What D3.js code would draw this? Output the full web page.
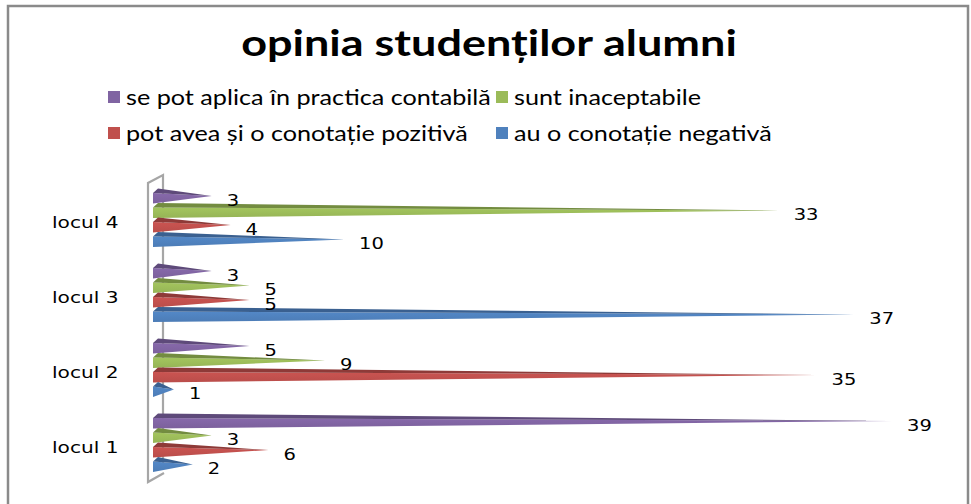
<!DOCTYPE html>
<html>
<head>
<meta charset="utf-8">
<script src="https://cdn.jsdelivr.net/npm/d3@7"></script>
<style>
  html, body { margin: 0; padding: 0; background: #fff; }
  svg { display: block; }
</style>
</head>
<body>
<div id="chart"></div>
<script>
// Categories, listed from bottom to top as on the axis
const categories = ["locul 1", "locul 2", "locul 3", "locul 4"];

// Series, in legend order
const seriesNames = [
  "se pot aplica în practica contabilă",
  "sunt inaceptabile",
  "pot avea și o conotație pozitivă",
  "au o conotație negativă"
];
const seriesColors = ["#8064A2", "#9BBB59", "#C0504D", "#4F81BD"];
const seriesDark   = ["#5E4A7A", "#738C40", "#8E3A38", "#3A6090"];

// Values per category (locul 1 .. locul 4)
const valuesAplica      = [39, 5, 3, 3];
const valuesInaceptabil = [3, 9, 5, 33];
const valuesPozitiva    = [6, 35, 5, 4];
const valuesNegativa    = [2, 1, 37, 10];
const seriesValues = [valuesAplica, valuesInaceptabil, valuesPozitiva, valuesNegativa];

const title = "opinia studenților alumni";

const W = 971, H = 504;
const svg = d3.select("#chart").append("svg").attr("width", W).attr("height", H);

// text drawn with a horizontal stretch (wide face)
function wideText(sel, x, y, sx) {
  return sel.append("text")
    .attr("transform", `translate(${x},${y}) scale(${sx},1)`);
}

// chart frame
svg.append("rect")
  .attr("x", 8).attr("y", 6).attr("width", 960).attr("height", 520)
  .attr("fill", "#fff").attr("stroke", "#8a8a8a").attr("stroke-width", 2.5);

// title
wideText(svg, 489, 56, 1.25)
  .attr("text-anchor", "middle")
  .attr("font-family", "Lato, 'Open Sans', sans-serif")
  .attr("font-weight", "bold")
  .attr("font-size", 36)
  .attr("fill", "#000")
  .text(title);

// legend: two rows, two columns
const legendPos = [
  {x: 108, y: 97}, {x: 496, y: 97},
  {x: 108, y: 133}, {x: 496, y: 133}
];
const legend = svg.append("g");
seriesNames.forEach((name, i) => {
  const p = legendPos[i];
  legend.append("rect")
    .attr("x", p.x).attr("y", p.y - 6).attr("width", 12).attr("height", 12)
    .attr("fill", seriesColors[i]);
  wideText(legend, p.x + 18, p.y, 1.2)
    .attr("dominant-baseline", "central")
    .attr("font-family", "Lato, 'Open Sans', sans-serif")
    .attr("font-size", 21)
    .attr("fill", "#000")
    .text(name);
});

// scales
const x = d3.scaleLinear().domain([0, 40]).range([155, 911]);
const y = d3.scaleBand()
  .domain(categories.slice().reverse())
  .range([180, 480])
  .paddingInner(0.227)
  .paddingOuter(0.1135);
const ySeries = d3.scaleBand()
  .domain(d3.range(seriesNames.length))
  .range([0, y.bandwidth()]);

// 3-D back wall of the category axis
const x0 = x(0);
const wallTop = 175, wallBottom = 482;
svg.append("path")
  .attr("d", d3.line()([
    [x0 + 8, 468], [x0 + 8, wallTop], [x0 - 7, wallTop + 8], [x0 - 7, wallBottom], [x0 + 9, wallBottom - 9]
  ]))
  .attr("fill", "none")
  .attr("stroke", "#a6a6a6")
  .attr("stroke-width", 2.2);

// category labels
const catLabels = svg.append("g");
categories.forEach(cat => {
  wideText(catLabels, 52, y(cat) + y.bandwidth() / 2 + 5, 1.26)
    .attr("dominant-baseline", "central")
    .attr("font-family", "'DejaVu Sans', Verdana, sans-serif")
    .attr("font-size", 16)
    .attr("fill", "#000")
    .text(cat);
});

// gradients for the pyramid faces
const defs = svg.append("defs");
seriesColors.forEach((c, i) => {
  const g = defs.append("linearGradient")
    .attr("id", "grad" + i).attr("x1", 0).attr("y1", 0).attr("x2", 0).attr("y2", 1);
  g.append("stop").attr("offset", "0%").attr("stop-color", d3.color(c).brighter(0.15));
  g.append("stop").attr("offset", "60%").attr("stop-color", c);
  g.append("stop").attr("offset", "100%").attr("stop-color", d3.color(c).darker(0.1));
});

// pyramid bars, drawn series by series from the top row down
const bars = svg.append("g");
const labels = svg.append("g");
categories.forEach((cat, ci) => {
  seriesNames.forEach((name, si) => {
    const v = seriesValues[si][ci];
    const y0 = y(cat) + ySeries(si);
    const h = ySeries.bandwidth() + 0.5;
    const xb = x0 - 2;
    const xt = x(v);
    const ty = y0 + h * 0.5;
    const A = [xb, y0 + h * 0.3], B = [xb + 5, y0], T = [xt, ty], C = [xb, y0 + h];
    bars.append("path")
      .attr("d", d3.line()([A, T, C]) + "Z")
      .attr("fill", `url(#grad${si})`);
    bars.append("path")
      .attr("d", d3.line()([A, B, T]) + "Z")
      .attr("fill", seriesDark[si]);
    wideText(labels, xt + 15, ty + 4, 1.22)
      .attr("dominant-baseline", "central")
      .attr("font-family", "'DejaVu Sans', Verdana, sans-serif")
      .attr("font-size", 16)
      .attr("fill", "#000")
      .text(v);
  });
});
</script>
</body>
</html>
